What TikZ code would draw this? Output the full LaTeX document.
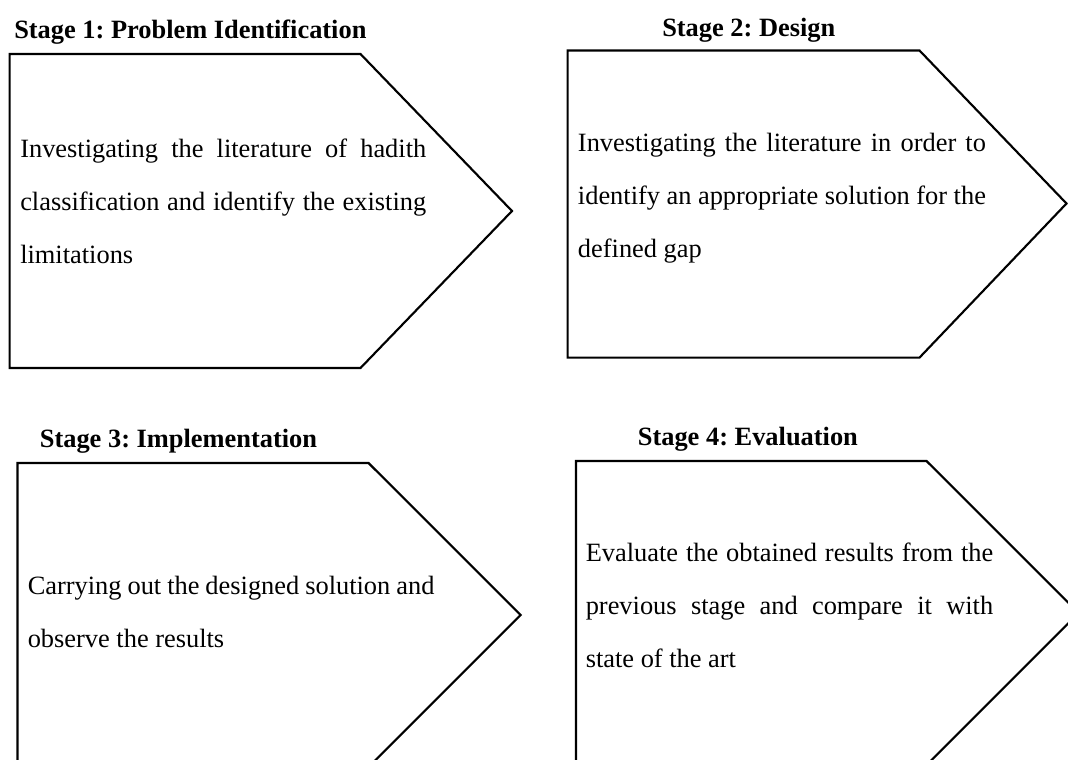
\documentclass[tikz,border=0pt]{standalone}
\usepackage{fontspec}
\setmainfont{Liberation Serif}
\frenchspacing
\newcommand{\stretchline}[1]{\makebox[\linewidth][s]{#1}\par}
\newcommand{\plainline}[1]{#1\par}
\newcommand{\bodytext}[2]{\parbox[t]{#1}{\fontsize{19.8pt}{39.75pt}\selectfont\setlength{\parindent}{0pt}\setlength{\parskip}{0pt}#2}}
\tikzset{
  stageshape/.style={draw=black, line width=1.6pt, line join=miter},
  stagetitle/.style={anchor=base west, inner sep=0pt, font=\fontsize{19.8pt}{24pt}\selectfont\bfseries},
  stagebody/.style={anchor=base west, inner sep=0pt},
}
\begin{document}
\begin{tikzpicture}[x=0.75pt,y=-0.75pt]
\useasboundingbox (0,0) rectangle (1068,760);
\clip (0,0) rectangle (1068,760);
\fill[white] (0,0) rectangle (1068,760);

% shapes
\draw[stageshape] (9.6,54) -- (360.5,54) -- (512,211) -- (360.5,368) -- (9.6,368) -- cycle;
\draw[stageshape] (567.6,50.5) -- (919.5,50.5) -- (1066.5,203.5) -- (919.5,357.6) -- (567.6,357.6) -- cycle;
\draw[stageshape] (17.5,463) -- (368.5,463) -- (520.7,615) -- (368.5,767) -- (17.5,767) -- cycle;
\draw[stageshape] (576,461) -- (926.5,461) -- (1078.7,613) -- (926.5,765) -- (576,765) -- cycle;

% titles
\node[stagetitle] (t1) at (14,38.6) {Stage 1: Problem Identification};
\node[stagetitle] (t2) at (662,36.4) {Stage 2: Design};
\node[stagetitle] (t3) at (39.6,447) {Stage 3: Implementation};
\node[stagetitle] (t4) at (637.6,445.7) {Stage 4: Evaluation};

% bodies
\node[stagebody] (b1) at (20,157) {\bodytext{304.5pt}{%
  \stretchline{Investigating the literature of hadith}%
  \stretchline{classification and identify the existing}%
  \plainline{limitations}}};
\node[stagebody] (b2) at (577.7,151) {\bodytext{306pt}{%
  \stretchline{Investigating the literature in order to}%
  \stretchline{identify an appropriate solution for the}%
  \plainline{defined gap}}};
\node[stagebody] (b3) at (27.5,594) {\bodytext{305pt}{%
  \plainline{Carrying out the designed solution and}%
  \plainline{observe the results}}};
\node[stagebody] (b4) at (585.5,561.8) {\bodytext{305.6pt}{%
  \stretchline{Evaluate the obtained results from the}%
  \stretchline{previous stage and compare it with}%
  \plainline{state of the art}}};
\end{tikzpicture}
\end{document}
